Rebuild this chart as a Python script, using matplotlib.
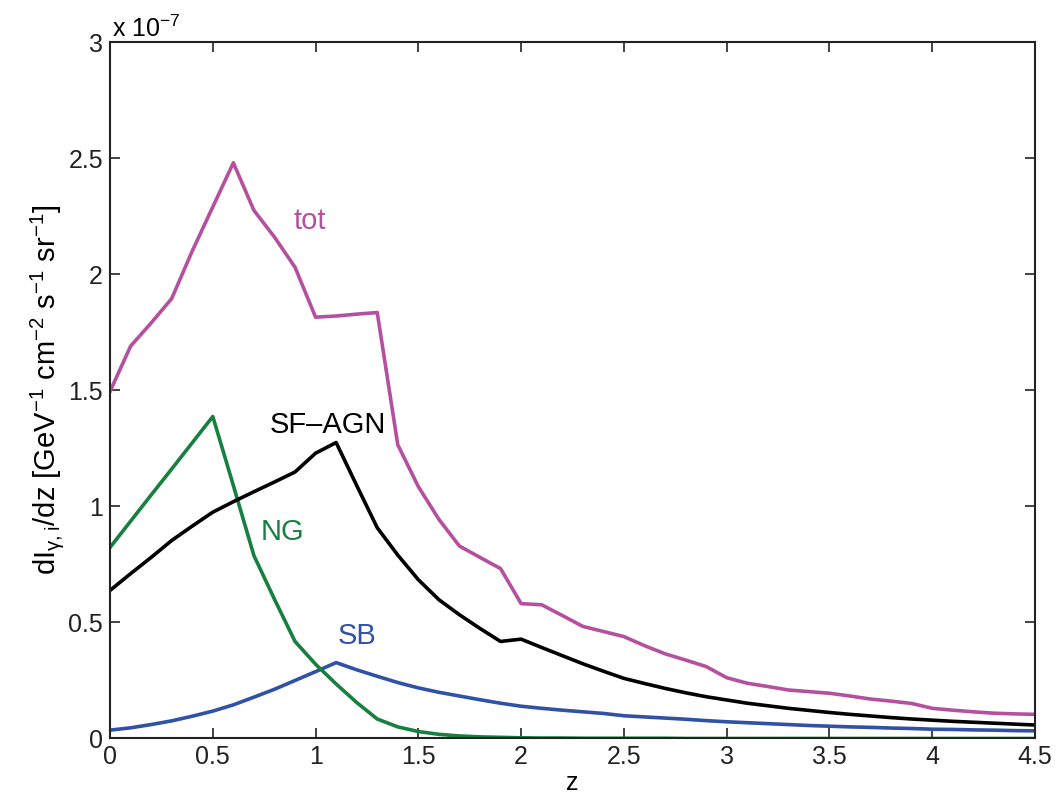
import numpy as np
import matplotlib.pyplot as plt

plt.rcParams['font.family'] = ['Liberation Sans', 'DejaVu Sans']
plt.rcParams['mathtext.default'] = 'regular'

# redshift grid
z = np.round(np.arange(0, 4.51, 0.1), 1)

# dI/dz in units of 1e-7 GeV^-1 cm^-2 s^-1 sr^-1
tot = [1.495, 1.69, 1.79, 1.895, 2.10, 2.29, 2.48, 2.275, 2.16, 2.03,
       1.815, 1.82, 1.828, 1.835, 1.265, 1.085, 0.944, 0.829, 0.78, 0.732,
       0.581, 0.576, 0.53, 0.483, 0.461, 0.439, 0.40, 0.365, 0.338, 0.31,
       0.262, 0.238, 0.224, 0.209, 0.202, 0.195, 0.183, 0.17, 0.161, 0.151,
       0.13, 0.122, 0.115, 0.109, 0.106, 0.104]
sf_agn = [0.638, 0.71, 0.78, 0.853, 0.915, 0.975, 1.02, 1.063, 1.105, 1.148,
          1.229, 1.275, 1.09, 0.908, 0.79, 0.684, 0.598, 0.533, 0.474, 0.418,
          0.428, 0.392, 0.357, 0.322, 0.29, 0.259, 0.237, 0.216, 0.197, 0.18,
          0.166, 0.152, 0.141, 0.13, 0.121, 0.112, 0.104, 0.097, 0.09, 0.084,
          0.079, 0.074, 0.07, 0.066, 0.062, 0.058]
ng = [0.823, 0.936, 1.049, 1.161, 1.274, 1.387, 1.09, 0.788, 0.60, 0.418,
      0.32, 0.235, 0.155, 0.084, 0.05, 0.03, 0.018, 0.011, 0.007, 0.005,
      0.003, 0.002, 0.002, 0.001, 0.001, 0.001, 0.001, 0.001, 0.0, 0.0,
      0.0, 0.0, 0.0, 0.0, 0.0, 0.0, 0.0, 0.0, 0.0, 0.0,
      0.0, 0.0, 0.0, 0.0, 0.0, 0.0]
sb = [0.036, 0.046, 0.06, 0.076, 0.096, 0.118, 0.145, 0.178, 0.212, 0.25,
      0.288, 0.327, 0.296, 0.268, 0.241, 0.218, 0.199, 0.183, 0.167, 0.152,
      0.139, 0.13, 0.122, 0.115, 0.108, 0.098, 0.093, 0.088, 0.083, 0.077,
      0.072, 0.068, 0.064, 0.06, 0.056, 0.053, 0.05, 0.048, 0.045, 0.043,
      0.040, 0.039, 0.037, 0.036, 0.034, 0.033]

c_tot = '#b5509e'
c_sf = 'black'
c_ng = '#178040'
c_sb = '#2f52a6'

fig = plt.figure(figsize=(10.6, 7.94), dpi=100)
ax = fig.add_axes([0.1038, 0.0699, 0.8726, 0.8771])

lw = 2.6
ax.plot(z, sb, color=c_sb, lw=lw)
ax.plot(z, ng, color=c_ng, lw=lw)
ax.plot(z, sf_agn, color=c_sf, lw=lw)
ax.plot(z, tot, color=c_tot, lw=lw)

fs = 21
tfs = 18
ax.text(0.97, 2.23, 'tot', color=c_tot, fontsize=fs, ha='center', va='center')
ax.text(1.06, 1.35, 'SF\u2013AGN', color=c_sf, fontsize=fs, ha='center', va='center')
ax.text(0.84, 0.888, 'NG', color=c_ng, fontsize=fs, ha='center', va='center')
ax.text(1.2, 0.44, 'SB', color=c_sb, fontsize=fs, ha='center', va='center')

ax.set_xlim(0, 4.5)
ax.set_ylim(0, 3)
ax.set_xticks(np.arange(0, 4.51, 0.5))
ax.set_yticks(np.arange(0, 3.01, 0.5))
ax.set_xticklabels(['%g' % v for v in np.arange(0, 4.51, 0.5)])
ax.set_yticklabels(['%g' % v for v in np.arange(0, 3.01, 0.5)])
ax.tick_params(direction='in', top=True, right=True, length=7, width=1.2,
               labelsize=tfs, colors='#222222', pad=5)
for s in ax.spines.values():
    s.set_linewidth(1.5)
    s.set_color('#222222')

ax.set_xlabel('z', fontsize=tfs, labelpad=1)
ax.set_ylabel(r'dI$_{\gamma,i}$/dz [GeV$^{-1}$ cm$^{-2}$ s$^{-1}$ sr$^{-1}$]',
              fontsize=fs, labelpad=2)
ax.text(0.002, 1.0, r'x 10$^{-7}$', transform=ax.transAxes, fontsize=tfs,
        ha='left', va='bottom')

fig.savefig('out.png', dpi=100)
